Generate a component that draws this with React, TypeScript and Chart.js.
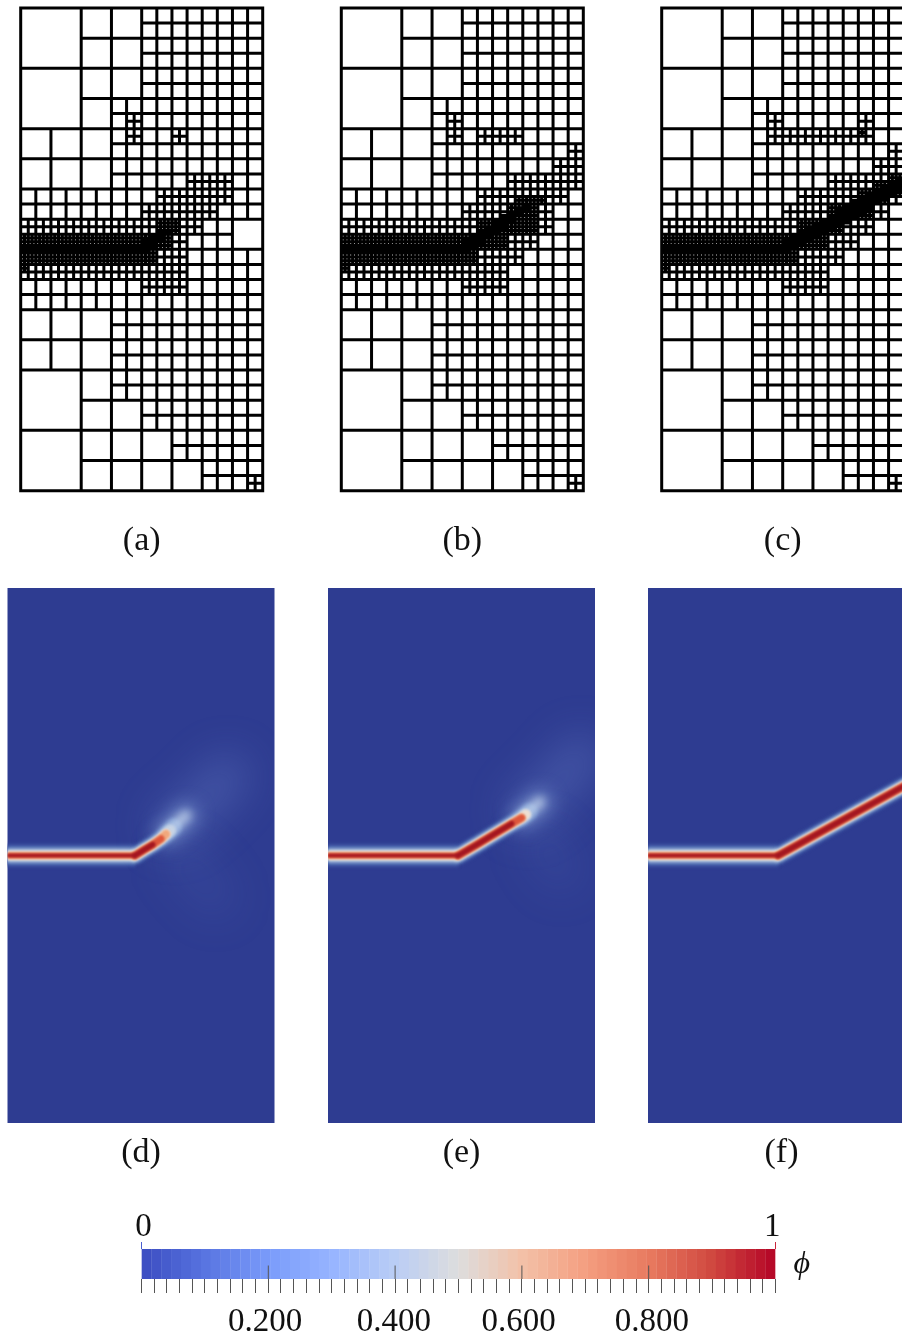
import React, { useEffect, useRef } from "react";
import { Chart, registerables } from "chart.js";

Chart.register(...registerables);

const SERIF = "'Liberation Serif', 'Times New Roman', serif";

// ---- mesh data, in units of 1/16 of the panel width: [col, row, size]
const coarseCells = [
  [0, 0, 4], [0, 4, 4], [0, 24, 4], [0, 28, 4],
  [4, 0, 2], [6, 0, 2], [4, 2, 2], [6, 2, 2], [4, 4, 2], [6, 4, 2], [4, 6, 2],
  [0, 8, 2], [2, 8, 2], [4, 8, 2], [0, 10, 2], [2, 10, 2], [4, 10, 2],
  [0, 20, 2], [2, 20, 2], [4, 20, 2], [0, 22, 2], [2, 22, 2], [4, 22, 2],
  [4, 24, 2], [4, 26, 2], [6, 26, 2], [4, 28, 2], [6, 28, 2], [8, 28, 2],
  [4, 30, 2], [6, 30, 2], [8, 30, 2], [10, 30, 2],
];
const coarseExtraA = [[14, 14, 2]];

// refined blocks: [x0, y0, x1, y1, subdivisions per unit]
const refinedCommon = [
  [0, 14, 8, 15, 2], [0, 15, 8, 15.75, 4], [0, 15.75, 8, 16.25, 8], [0, 16.25, 8, 17, 4],
  [0, 17, 11, 18, 2], [0, 17, 0.5, 17.5, 4], [8, 18, 11, 19, 2], [7, 7, 8, 9, 2], [15, 31, 16, 32, 2],
];
const refinedA = [
  [10, 8, 11, 9, 2], [11, 11, 14, 12, 2], [9, 12, 14, 13, 2], [8, 13, 13, 14, 2], [8, 14, 9, 15, 2],
  [9, 14, 10.5, 15, 4], [10.5, 14, 12, 15, 2], [10, 15, 11, 16, 2], [8, 15, 10, 16, 4], [8, 16, 9, 17, 4], [9, 16, 11, 17, 2],
];
const refinedB = [
  [9, 8, 12, 9, 2], [15, 9, 16, 10, 2], [14, 10, 16, 11, 2], [11, 11, 16, 12, 2], [9, 12, 15, 13, 2],
  [8, 13, 11, 14, 2], [13, 13, 14, 14, 2], [13, 14, 14, 15, 2], [8, 14, 9, 15, 2],
  [11.5, 12.5, 13.5, 13, 4], [11, 13, 13, 14, 4], [9, 14, 13, 15, 4], [8, 15, 11, 16, 4], [8, 16, 9, 17, 4],
  [11, 15, 13, 16, 2], [9, 16, 12, 17, 2],
];
const refinedC = [
  [13, 7, 14, 8, 2], [7, 8, 14, 9, 2], [15, 9, 16, 10, 2], [14, 10, 16, 11, 2], [11, 11, 15, 12, 2],
  [9, 12, 13, 13, 2], [15, 12.5, 16, 13, 2], [8, 13, 11, 14, 2], [14, 13, 15, 14, 2], [8, 14, 9, 15, 2],
  [12, 14, 14, 15, 2], [11, 15, 13, 16, 2], [9, 16, 12, 17, 2],
  [13, 8, 13.5, 8.5, 4], [15, 11, 16, 12.5, 4], [14, 11.5, 15, 13, 4], [13, 12, 14, 13, 4],
  [11, 13, 14, 14, 4], [9, 14, 12, 15, 4], [8, 15, 11, 16, 4], [8, 16, 9, 17, 4],
];

// finest cells along the slanted crack, one [top, bottom] per half column from column 8
const crackBandA = [[15.25, 16.25], [15, 16], [14.75, 15.5], [14.75, 15]];
const crackBandB = [[15.25, 16.25], [15, 16], [14.75, 15.75], [14.5, 15.25], [14, 15], [13.75, 14.75], [13.5, 14.25], [13.25, 13.75], [13, 13.5]];
const crackBandC = [[15.25, 16.25], [15, 16], [14.75, 15.75], [14.5, 15.5], [14.25, 15.25], [14, 15], [13.75, 14.75], [13.25, 14.5], [13, 14.25], [12.75, 14], [12.5, 13.75], [12.25, 13.5], [12, 13], [11.75, 12.75], [11.5, 12.5], [11.25, 12.25]];

// ---- phase-field data: crack centre lines [x, y, peak phi]
const crackFlatD = [[0, 16], [7.64, 16]];
const crackFlatE = [[0, 16], [7.8, 16]];
const crackFlatF = [[0, 16], [7.8, 16]];
const crackSlantD = [[7.64, 16, 1], [8.2, 15.65, 1], [8.7, 15.35, 1], [9.2, 15.0, 0.9], [9.5, 14.72, 0.7], [9.75, 14.5, 0.5], [9.95, 14.3, 0.3]];
const crackSlantE = [[7.8, 16, 1], [9, 15.3, 1], [10, 14.7, 1], [11, 14.1, 0.98], [11.6, 13.75, 0.85], [11.85, 13.55, 0.6], [12.05, 13.38, 0.3]];
const crackSlantF = [[7.8, 16, 1], [16.8, 11.05, 1]];
const processZoneD = [[[10, 14.2], [11, 13.4], [12, 12.5], [13.2, 11.2]], [[10.5, 16.2], [12.5, 18.5]]];
const processZoneE = [[[12, 13.3], [13, 12.4], [14.2, 11.2], [15.2, 10]], [[12.8, 15.2], [14, 17]]];
const tipGlowD = [[9.5, 14.7], [10.7, 13.6]];
const tipGlowE = [[11.6, 13.7], [12.7, 12.8]];

// ---- colour bar
const bandCount = 64;
const minorTickStep = 0.02;
const majorTicks = [0.2, 0.4, 0.6, 0.8];
const tickLabels = ["0.200", "0.400", "0.600", "0.800"];
const tickLabelPositions = [0.195, 0.398, 0.595, 0.805];
const endLabels = ["0", "1"];
const endTicks = [0, 1];
const endLabelPositions = [0.003, 0.995];
const panelLabels = ["(a)", "(b)", "(c)", "(d)", "(e)", "(f)"];

const barStops: [number, number[]][] = [
  [0, [59, 76, 192]], [0.1, [88, 116, 225]], [0.2, [122, 155, 250]], [0.3, [150, 180, 255]],
  [0.4, [186, 205, 245]], [0.5, [221, 221, 221]], [0.6, [243, 193, 168]], [0.7, [244, 158, 128]],
  [0.8, [232, 122, 95]], [0.9, [208, 72, 64]], [1, [180, 4, 38]],
];
const fieldStops: [number, number[]][] = [
  [0, [46, 60, 145]], [0.15, [74, 102, 176]], [0.3, [127, 156, 204]], [0.45, [200, 212, 228]],
  [0.55, [238, 223, 210]], [0.7, [240, 160, 112]], [0.85, [216, 68, 47]], [1, [150, 10, 28]],
];
const mapColor = (stops: [number, number[]][], v: number) => {
  for (let i = 1; i < stops.length; i++) {
    if (v <= stops[i][0]) {
      const [a, ca] = stops[i - 1];
      const [b, cb] = stops[i];
      const t = (v - a) / (b - a);
      return `rgb(${ca.map((c, k) => Math.round(c + (cb[k] - c) * t)).join(",")})`;
    }
  }
  return `rgb(${stops[stops.length - 1][1].join(",")})`;
};

const fieldLevels = [0.05, 0.12, 0.22, 0.32, 0.45, 0.55, 0.68, 0.82, 0.97];
const flatWidths = [24, 20, 16.5, 13.5, 11, 9, 7, 5, 3];
const slantWidths = [20, 17, 14.5, 12.5, 11, 9.5, 8.5, 7, 5.5];

type Pt = { x: number; y: number | null };

function gridLines(out: Pt[], x0: number, y0: number, x1: number, y1: number, n: number) {
  for (let i = 0; i <= Math.round((x1 - x0) * n); i++) {
    const x = x0 + i / n;
    out.push({ x, y: y0 }, { x, y: y1 }, { x, y: null });
  }
  for (let j = 0; j <= Math.round((y1 - y0) * n); j++) {
    const y = y0 + j / n;
    out.push({ x: x0, y }, { x: x1, y }, { x: x1, y: null });
  }
}

function meshPoints(coarse: number[][], refined: number[][], band: number[][]) {
  const pts: Pt[] = [];
  const covered = new Set<string>();
  coarse.forEach(([c, r, s]) => {
    gridLines(pts, c, r, c + s, r + s, 1 / s);
    for (let i = 0; i < s; i++) for (let j = 0; j < s; j++) covered.add(`${c + i},${r + j}`);
  });
  for (let c = 0; c < 16; c++)
    for (let r = 0; r < 32; r++) if (!covered.has(`${c},${r}`)) gridLines(pts, c, r, c + 1, r + 1, 1);
  refined.forEach(([a, b, c, d, n]) => gridLines(pts, a, b, c, d, n));
  band.forEach(([t, b], i) => gridLines(pts, 8 + i / 2, t, 8.5 + i / 2, b, 8));
  return pts;
}

const hiddenScales = (xMax: number, yMax: number) => ({
  x: { type: "linear", display: false, min: 0, max: xMax },
  y: { type: "linear", display: false, min: 0, max: yMax, reverse: true },
});

const titleOf = (text: string, top: number) => ({
  display: true,
  position: "bottom",
  text,
  color: "#111",
  font: { family: SERIF, size: 34, weight: "normal", lineHeight: 1.2 },
  padding: { top, bottom: 0 },
});

function meshConfig(label: string, coarse: number[][], refined: number[][], band: number[][], padL: number, padR: number) {
  return {
    type: "scatter",
    data: {
      datasets: [
        {
          data: meshPoints(coarse, refined, band),
          showLine: true,
          borderColor: "#000",
          borderWidth: 3,
          borderCapStyle: "square",
          borderDash: [100000, 0],
          pointRadius: 0,
          spanGaps: false,
          clip: false,
        },
      ],
    },
    options: {
      animation: false,
      responsive: false,
      devicePixelRatio: 1,
      events: [],
      layout: { padding: { left: padL, right: padR, top: 8, bottom: 0.5 } },
      scales: hiddenScales(16, 32),
      plugins: { legend: { display: false }, tooltip: { enabled: false }, title: titleOf(label, 30) },
    },
  };
}

function stroke(points: number[][], color: string, width: number, blur: number, extra: any = {}) {
  return {
    data: points.map(([x, y]) => ({ x, y })),
    showLine: true,
    borderColor: color,
    borderWidth: width,
    borderCapStyle: "round",
    borderJoinStyle: "round",
    pointRadius: 0,
    blurPx: blur,
    ...extra,
  };
}

const fieldPlugin = {
  id: "fieldBase",
  beforeDatasetsDraw(chart: any) {
    const { ctx, chartArea: a } = chart;
    ctx.save();
    ctx.fillStyle = mapColor(fieldStops, 0);
    ctx.fillRect(a.left, a.top, a.right - a.left, a.bottom - a.top);
  },
  beforeDatasetDraw(chart: any, args: any) {
    chart.ctx.filter = `blur(${chart.data.datasets[args.index].blurPx}px)`;
  },
  afterDatasetsDraw(chart: any) {
    chart.ctx.filter = "none";
    chart.ctx.restore();
  },
};

function fieldConfig(label: string, flat: number[][], slant: number[][], zones: number[][][], glow: number[][] | null, padL: number, padR: number) {
  const low: any[] = [];
  const mid: any[] = [];
  const high: any[] = [];
  fieldLevels.forEach((lv, i) => {
    const color = mapColor(fieldStops, lv);
    const part = slant.filter((p) => p[2] >= lv);
    const blur = lv < 0.5 ? 1.8 : 1;
    const target = lv < 0.4 ? low : high;
    if (part.length > 1) target.push(stroke(part, color, slantWidths[i], blur));
    target.push(stroke(flat, color, flatWidths[i], blur, { borderCapStyle: "butt" }));
  });
  zones.forEach((z, k) => {
    mid.push(stroke(z, k === 0 ? "rgba(130,160,225,0.26)" : "rgba(110,135,205,0.11)", 42, 20));
  });
  if (glow) {
    mid.push(stroke(glow, "rgba(150,180,230,0.6)", 22, 9));
    mid.push(stroke(glow.slice(0, 2), "rgba(210,225,242,0.7)", 10, 4));
  }
  const sets = [...low, ...mid, ...high];
  return {
    type: "scatter",
    data: { datasets: sets.reverse() },
    options: {
      animation: false,
      responsive: false,
      devicePixelRatio: 1,
      events: [],
      layout: { padding: { left: padL, right: padR, top: 8, bottom: 0.2 } },
      scales: hiddenScales(16, 32),
      plugins: { legend: { display: false }, tooltip: { enabled: false }, title: titleOf(label, 10) },
    },
    plugins: [fieldPlugin],
  };
}

function colorbarConfig() {
  const bands = Array.from({ length: bandCount }, (_, i) => (i + 0.5) / bandCount);
  const rising: Pt[] = [];
  majorTicks.forEach((x) => rising.push({ x, y: 0 }, { x, y: 0.45 }, { x, y: null }));
  const fixedHeight = (h: number) => (s: any) => {
    s.height = h;
  };
  return {
    type: "bar",
    data: {
      datasets: [
        {
          type: "scatter",
          data: rising,
          showLine: true,
          borderColor: "#555",
          borderWidth: 1,
          pointRadius: 0,
          xAxisID: "x",
          yAxisID: "y",
        },
        {
          type: "bar",
          data: bands.map((x) => ({ x, y: 1 })),
          backgroundColor: bands.map((v) => mapColor(barStops, v)),
          borderWidth: 0,
          barPercentage: 1.03,
          categoryPercentage: 1,
          xAxisID: "x",
          yAxisID: "y",
        },
      ],
    },
    options: {
      animation: false,
      responsive: false,
      devicePixelRatio: 1,
      events: [],
      layout: { padding: { left: 41.5, right: 0, top: 0, bottom: 0 } },
      plugins: { legend: { display: false }, tooltip: { enabled: false } },
      scales: {
        x: {
          type: "linear",
          position: "bottom",
          offset: false,
          weight: 0,
          min: 0,
          max: 1,
          afterFit: fixedHeight(15),
          border: { display: false },
          grid: { offset: false, drawOnChartArea: false, drawTicks: true, tickLength: 14, tickColor: "#555", tickWidth: 1 },
          ticks: { stepSize: minorTickStep, autoSkip: false, maxRotation: 0, callback: () => "", padding: 0, font: { size: 1 } },
        },
        x2: {
          type: "linear",
          position: "bottom",
          offset: false,
          weight: 1,
          min: 0,
          max: 1,
          afterFit: fixedHeight(43),
          afterBuildTicks: (s: any) => {
            s.ticks = tickLabelPositions.map((value) => ({ value }));
          },
          border: { display: false },
          grid: { offset: false, display: false, drawTicks: false },
          ticks: {
            autoSkip: false,
            maxRotation: 0,
            padding: 9,
            color: "#111",
            font: { family: SERIF, size: 33 },
            callback: (_: any, i: number) => tickLabels[i],
          },
        },
        x3: {
          type: "linear",
          position: "top",
          offset: false,
          weight: 0,
          min: 0,
          max: 1,
          afterFit: fixedHeight(7),
          afterBuildTicks: (s: any) => {
            s.ticks = endTicks.map((value) => ({ value }));
          },
          border: { display: false },
          grid: {
            offset: false,
            drawOnChartArea: false,
            drawTicks: true,
            tickLength: 7,
            tickWidth: 1,
            tickColor: (c: any) => (c.index === 0 ? "#4a5fd0" : "#c8263c"),
          },
          ticks: { autoSkip: false, maxRotation: 0, padding: 0, callback: () => "", font: { size: 1 } },
        },
        x4: {
          type: "linear",
          position: "top",
          offset: false,
          weight: 1,
          min: 0,
          max: 1,
          afterFit: fixedHeight(42),
          afterBuildTicks: (s: any) => {
            s.ticks = endLabelPositions.map((value) => ({ value }));
          },
          border: { display: false },
          grid: { offset: false, display: false, drawTicks: false },
          ticks: {
            autoSkip: false,
            maxRotation: 0,
            padding: -5,
            color: "#111",
            font: { family: SERIF, size: 33 },
            callback: (_: any, i: number) => endLabels[i],
          },
        },
        y: {
          type: "linear",
          position: "right",
          min: 0,
          max: 1,
          afterFit: (s: any) => {
            s.width = 84.5;
          },
          afterBuildTicks: (s: any) => {
            s.ticks = [{ value: 0.47 }];
          },
          border: { display: false },
          grid: { display: false, drawTicks: false },
          ticks: {
            padding: 18,
            color: "#111",
            font: { family: SERIF, size: 32, style: "italic" },
            callback: () => "\u03D5",
          },
        },
      },
    },
  };
}

function ChartCanvas({ make, left, top, width, height }: { make: () => any; left: number; top: number; width: number; height: number }) {
  const ref = useRef<HTMLCanvasElement>(null);
  useEffect(() => {
    const chart = new Chart(ref.current as HTMLCanvasElement, make());
    return () => chart.destroy();
  }, [make]);
  return <canvas ref={ref} width={width} height={height} style={{ position: "absolute", left, top, display: "block" }} />;
}

const makers = {
  a: () => meshConfig(panelLabels[0], [...coarseCells, ...coarseExtraA], [...refinedCommon, ...refinedA], crackBandA, 10.7, 10.3),
  b: () => meshConfig(panelLabels[1], coarseCells, [...refinedCommon, ...refinedB], crackBandB, 11.3, 10.7),
  c: () => meshConfig(panelLabels[2], coarseCells, [...refinedCommon, ...refinedC], crackBandC, 11.7, 10.3),
  d: () => fieldConfig(panelLabels[3], crackFlatD, crackSlantD, processZoneD, tipGlowD, 7.5, 7.5),
  e: () => fieldConfig(panelLabels[4], crackFlatE, crackSlantE, processZoneE, tipGlowE, 8, 8),
  f: () => fieldConfig(panelLabels[5], crackFlatF, crackSlantF, [], null, 8, 8),
  bar: colorbarConfig,
};

export default function App() {
  return (
    <div
      style={{
        position: "absolute",
        left: 0,
        top: 0,
        width: 902,
        height: 1337,
        overflow: "hidden",
        background: "#fff",
        filter: "blur(0.45px)",
      }}
    >
      <ChartCanvas make={makers.a} left={10} top={0} width={263} height={562} />
      <ChartCanvas make={makers.b} left={330} top={0} width={264} height={562} />
      <ChartCanvas make={makers.c} left={650} top={0} width={264} height={562} />
      <ChartCanvas make={makers.d} left={0} top={580} width={282} height={594} />
      <ChartCanvas make={makers.e} left={320} top={580} width={283} height={594} />
      <ChartCanvas make={makers.f} left={640} top={580} width={283} height={594} />
      <ChartCanvas make={makers.bar} left={100} top={1200} width={760} height={137} />
    </div>
  );
}
